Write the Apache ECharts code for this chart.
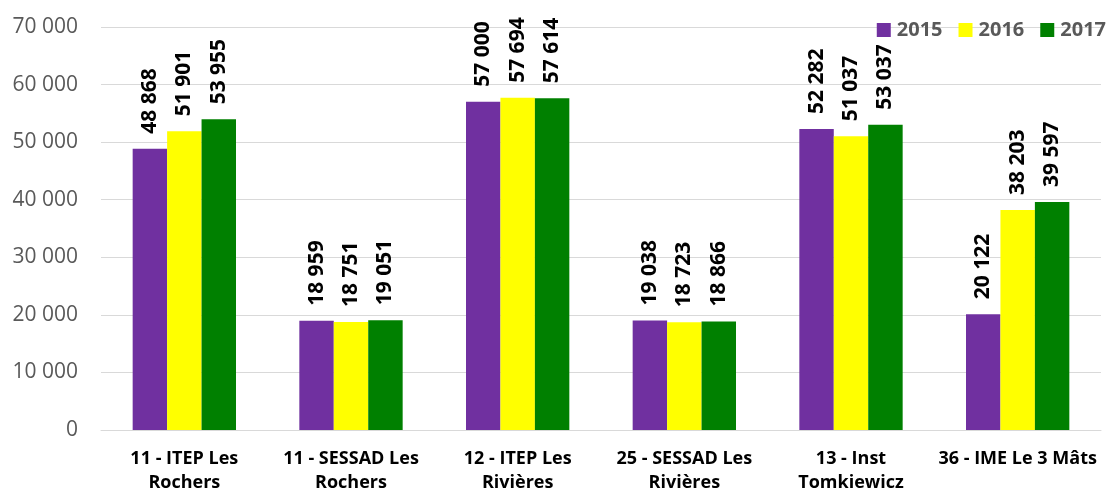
<!DOCTYPE html>
<html>
<head>
<meta charset="utf-8">
<script src="https://cdn.jsdelivr.net/npm/echarts@6/dist/echarts.min.js"></script>
<style>
  html, body { margin: 0; padding: 0; background: #fff; }
  #chart { width: 1112px; height: 495px; }
</style>
</head>
<body>
<div id="chart"></div>
<script>
// Établissements
const categories = [
  '11 - ITEP Les\nRochers',
  '11 - SESSAD Les\nRochers',
  '12 - ITEP Les\nRivières',
  '25 - SESSAD Les\nRivières',
  '13 - Inst\nTomkiewicz',
  '36 - IME Le 3 Mâts'
];
const years = ['2015', '2016', '2017'];
const values2015 = [48868, 18959, 57000, 19038, 52282, 20122];
const values2016 = [51901, 18751, 57694, 18723, 51037, 38203];
const values2017 = [53955, 19051, 57614, 18866, 53037, 39597];
const yTicks = { min: 0, max: 70000, interval: 10000 };

const colors = ['#7030A0', '#FFFF00', '#008000'];
const FONT = '"Open Sans", "Liberation Sans", sans-serif';

// "48 868" style: space as thousands separator
const fmt = v => String(Math.round(v)).replace(/\B(?=(\d{3})+(?!\d))/g, ' ');

const seriesData = [values2015, values2016, values2017];

const chart = echarts.init(document.getElementById('chart'));
chart.setOption({
  animation: false,
  textStyle: { fontFamily: FONT },
  color: colors,
  grid: { left: 101, right: 11, top: 27, bottom: 63, containLabel: false },
  legend: {
    data: years,
    right: 1,
    top: 15,
    itemWidth: 14,
    itemHeight: 14,
    itemGap: 16,
    icon: 'rect',
    textStyle: { fontFamily: FONT, fontSize: 20, fontWeight: 'bold', color: '#595959', padding: [0, 0, 0, 1] }
  },
  xAxis: {
    type: 'category',
    data: categories,
    axisLine: { lineStyle: { color: '#D9D9D9', width: 1 } },
    axisTick: { show: false },
    axisLabel: {
      interval: 0,
      margin: 17,
      fontFamily: FONT,
      fontSize: 18,
      fontWeight: 'bold',
      color: '#000',
      lineHeight: 24
    }
  },
  yAxis: {
    type: 'value',
    min: yTicks.min,
    max: yTicks.max,
    interval: yTicks.interval,
    axisLine: { show: false },
    axisTick: { show: false },
    splitLine: { lineStyle: { color: '#D9D9D9', width: 1 } },
    axisLabel: {
      margin: 23,
      fontFamily: FONT,
      fontSize: 21,
      color: '#595959',
      formatter: v => fmt(v)
    }
  },
  series: years.map((y, i) => ({
    name: y,
    type: 'bar',
    data: seriesData[i],
    barGap: '0%',
    barCategoryGap: '38%',
    itemStyle: { color: colors[i] },
    label: {
      show: true,
      position: 'top',
      rotate: 90,
      align: 'left',
      verticalAlign: 'middle',
      distance: 15,
      fontFamily: FONT,
      fontSize: 21,
      fontWeight: 'bold',
      color: '#000',
      formatter: p => fmt(p.value)
    }
  }))
});
</script>
</body>
</html>
